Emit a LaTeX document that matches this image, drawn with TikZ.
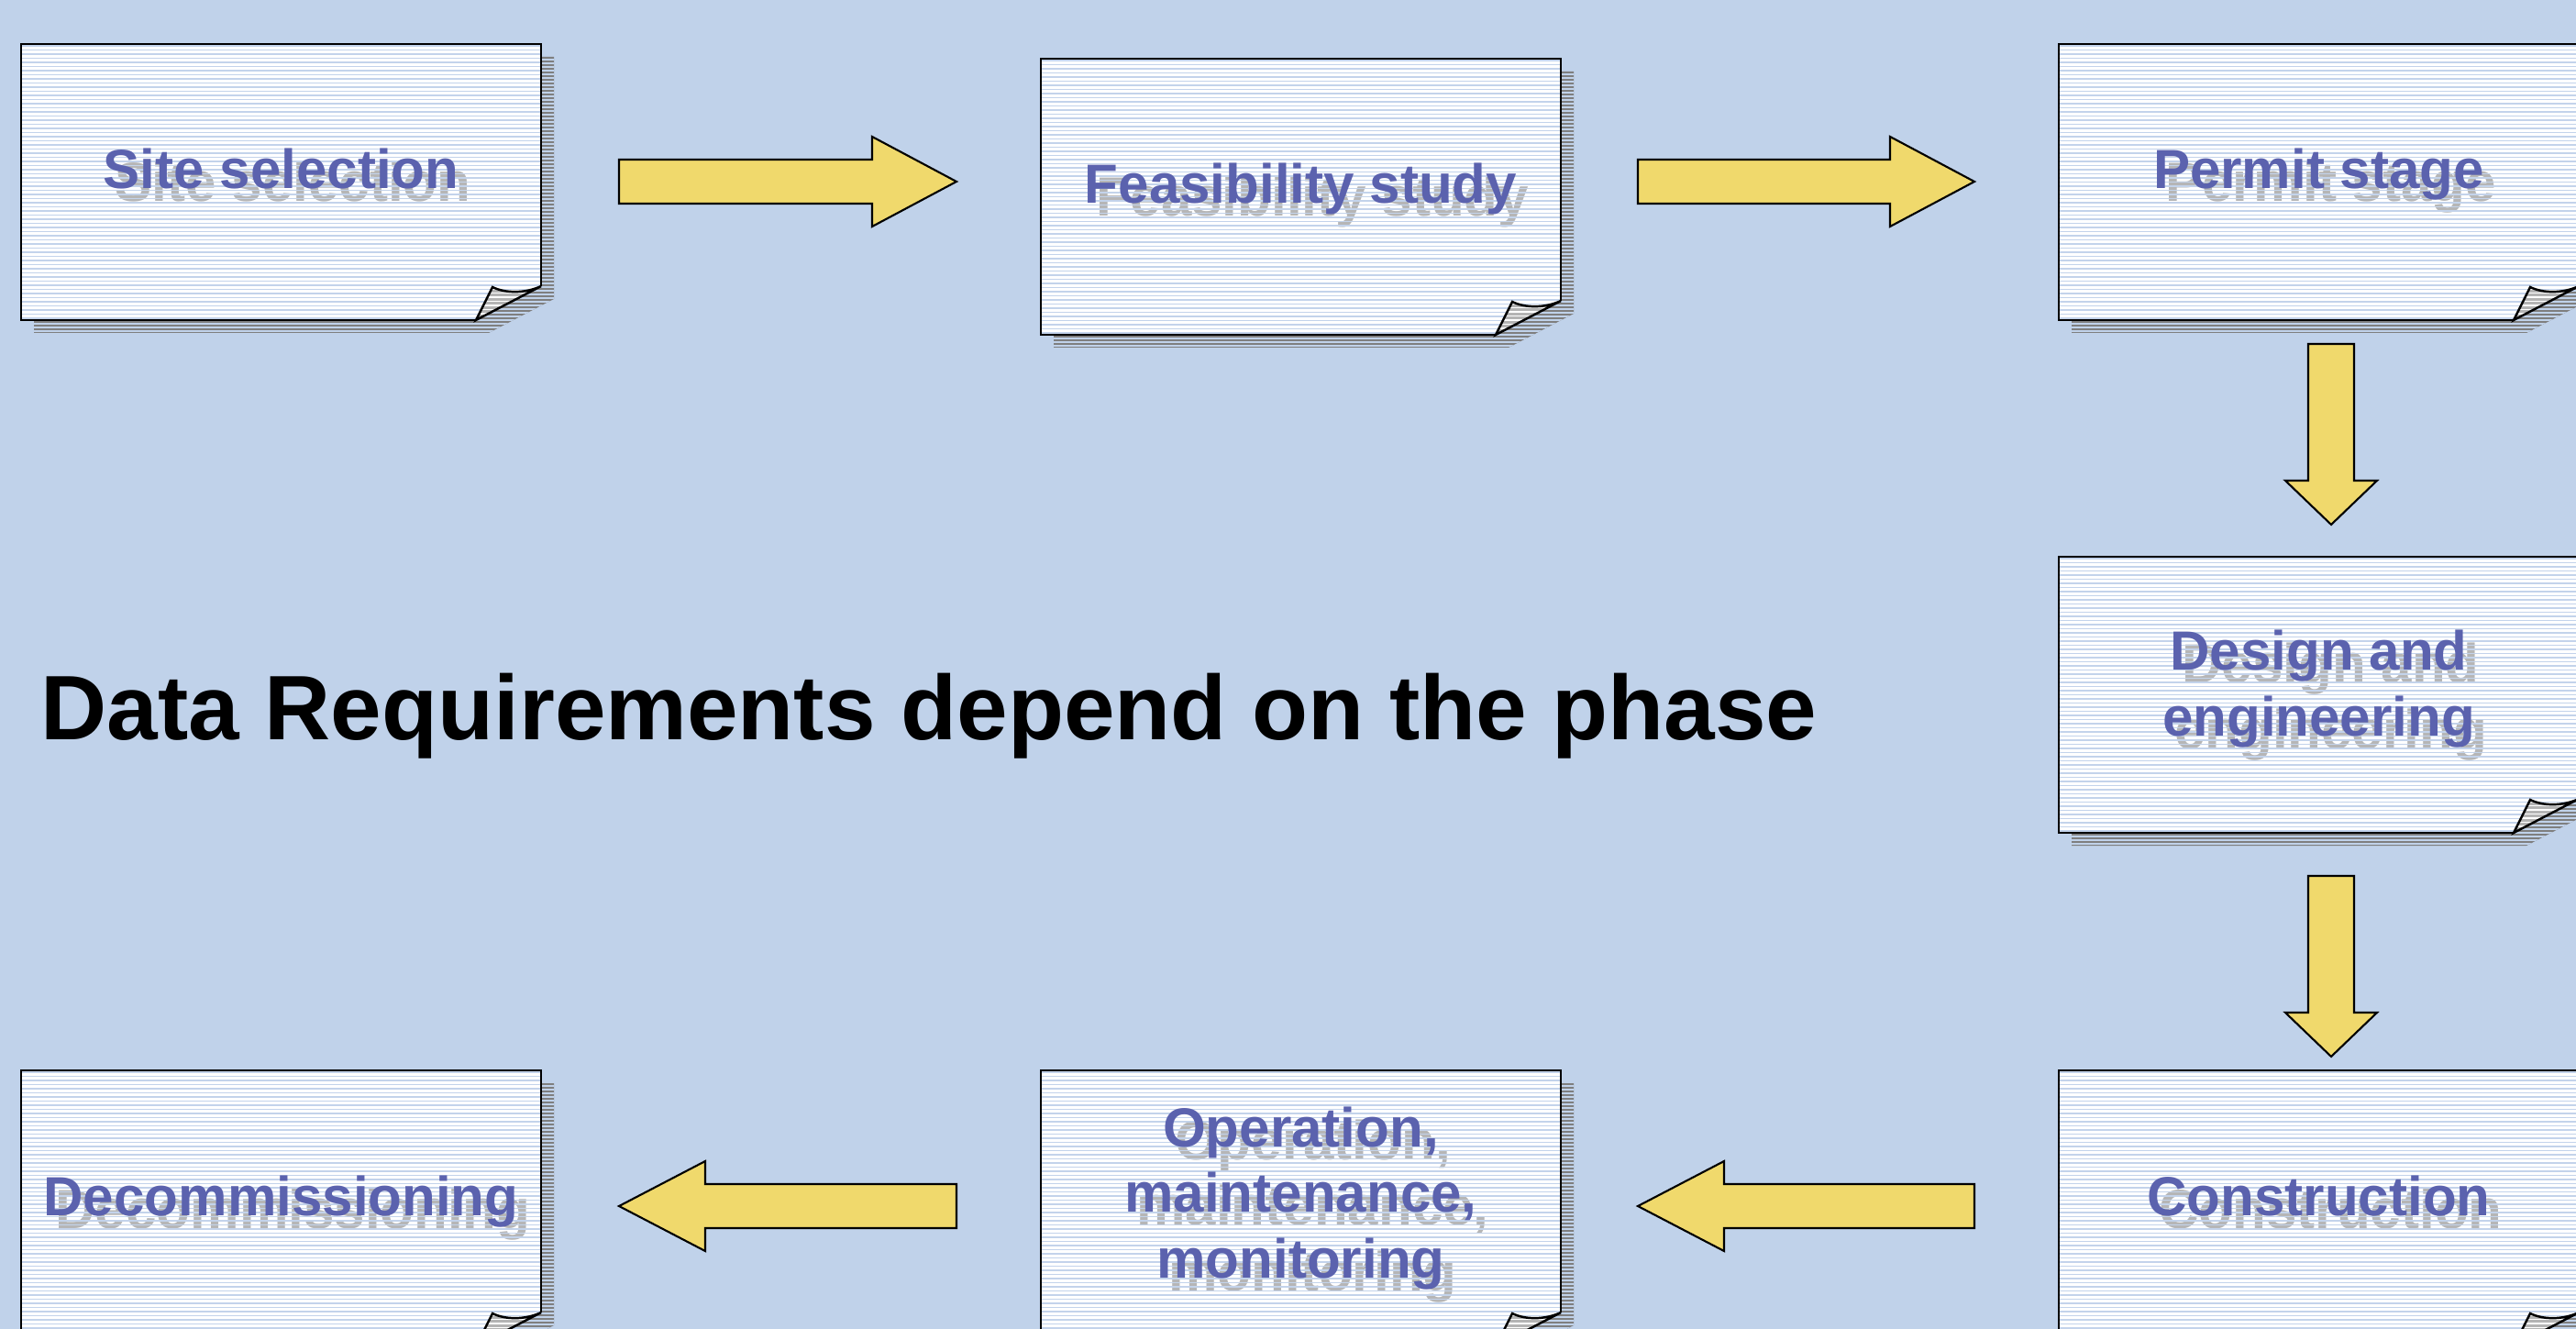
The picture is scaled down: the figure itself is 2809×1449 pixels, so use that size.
\documentclass[tikz,border=0pt]{standalone}
\usepackage{fontspec}
\setmainfont{Liberation Sans}
\usetikzlibrary{calc}
\definecolor{bg}{HTML}{C0D2EA}
\definecolor{txtblue}{HTML}{5B62AE}
\definecolor{arrowyel}{HTML}{F0D96C}
\definecolor{stripe}{HTML}{C3D3EB}
\definecolor{shgray}{HTML}{7F7F7F}
\definecolor{foldgray}{HTML}{B4B4B4}
\definecolor{textshadow}{HTML}{B6B6B6}
\tikzset{
  outline/.style={draw=black, line width=0.7pt, line join=miter},
  blockarrow/.style={draw=black, fill=arrowyel, line width=0.6pt, line join=miter},
  boxtext/.style={font=\fontsize{17.1pt}{20.4pt}\selectfont\bfseries, align=center, inner sep=0pt},
  titletext/.style={font=\fontsize{28.4pt}{34pt}\selectfont\bfseries, text=black, inner sep=0pt},
  paperarea/.style={minimum width=5.67cm, minimum height=3.01cm, inner sep=0pt, draw=none},
}
% #1 name, #2 x, #3 y, #4 text anchor, #5 text y, #6 text
\newcommand{\PaperBox}[6]{%
\begin{scope}[shift={(#2,#3)}]
  \fill[shgray] (14,14) -- (581,14) -- (581,278) -- (510,315) -- (14,315) -- cycle;
  \begin{scope}
    \clip (14,14) -- (581,14) -- (581,278) -- (510,315) -- (14,315) -- cycle;
    \foreach \k in {0,...,80} \draw[bg, line width=0.3pt] (0,\k*4+1) -- (600,\k*4+1);
  \end{scope}
  \fill[white] (0,0) -- (567,0) -- (567,264) .. controls (550,272) and (528,272) .. (514,265) -- (496,301) -- (0,301) -- cycle;
  \node[boxtext, text=textshadow, anchor=#4] (#1-shadow) at (296.5,#5+14) {#6};
  \begin{scope}
    \clip (0,0) -- (567,0) -- (567,264) .. controls (550,272) and (528,272) .. (514,265) -- (496,301) -- (0,301) -- cycle;
    \foreach \k in {0,...,66} \draw[stripe, line width=0.3pt] (0,\k*4.5+2) -- (567,\k*4.5+2);
  \end{scope}
  \fill[foldgray] (496,301) -- (514,265) .. controls (528,272) and (550,272) .. (567,264) -- cycle;
  \begin{scope}
    \clip (496,301) -- (514,265) .. controls (528,272) and (550,272) .. (567,264) -- cycle;
    \foreach \k in {0,...,10} \draw[white, line width=0.3pt] (480,\k*4.5+258) -- (580,\k*4.5+258);
  \end{scope}
  \draw[outline] (496,301) -- (0,301) -- (0,0) -- (567,0) -- (567,264);
  \draw[outline] (496,301) -- (514,265) .. controls (528,272) and (550,272) .. (567,264) -- cycle;
  \node[paperarea] (#1) at (283.5,150.5) {};
  \node[boxtext, text=txtblue, anchor=#4] (#1-text) at (283.5,#5) {#6};
\end{scope}}
% right arrow: tail x, tip x, centre y
\newcommand{\RightArrow}[3]{%
  \draw[blockarrow] (#1,#3-24) -- (#2-92,#3-24) -- (#2-92,#3-49) -- (#2,#3) -- (#2-92,#3+49) -- (#2-92,#3+24) -- (#1,#3+24) -- cycle;}
% left arrow: tail x, tip x, centre y
\newcommand{\LeftArrow}[3]{%
  \draw[blockarrow] (#1,#3-24) -- (#2+94,#3-24) -- (#2+94,#3-49) -- (#2,#3) -- (#2+94,#3+49) -- (#2+94,#3+24) -- (#1,#3+24) -- cycle;}
% down arrow: centre x, top y, tip y
\newcommand{\DownArrow}[3]{%
  \draw[blockarrow] (#1-25,#2) -- (#1+25,#2) -- (#1+25,#3-48) -- (#1+50,#3-48) -- (#1,#3) -- (#1-50,#3-48) -- (#1-25,#3-48) -- (#1-25,#2) -- cycle;}
\begin{document}
\begin{tikzpicture}[x=0.01cm, y=-0.01cm]
  \useasboundingbox (0,0) rectangle (2809,1449);
  \clip (0,0) rectangle (2809,1449);
  \fill[bg] (0,0) rectangle (2809,1449);

  \PaperBox{site}{23}{48}{base}{158}{Site selection}
  \PaperBox{feas}{1135}{64}{base}{158}{Feasibility study}
  \PaperBox{permit}{2245}{48}{base}{158}{Permit stage}
  \PaperBox{design}{2245}{607}{center}{144}{Design and\\engineering}
  \PaperBox{constr}{2245}{1167}{base}{158}{Construction}
  \PaperBox{oper}{1135}{1167}{center}{139.5}{Operation,\\maintenance,\\monitoring}
  \PaperBox{decom}{23}{1167}{base}{158}{Decommissioning}

  \RightArrow{675}{1043}{198}
  \RightArrow{1786}{2153}{198}
  \DownArrow{2542}{375}{572}
  \DownArrow{2542}{955}{1152}
  \LeftArrow{2153}{1786}{1315}
  \LeftArrow{1043}{675}{1315}

  \node[titletext, anchor=base west] (title) at (44,806) {Data Requirements depend on the phase};
\end{tikzpicture}
\end{document}
